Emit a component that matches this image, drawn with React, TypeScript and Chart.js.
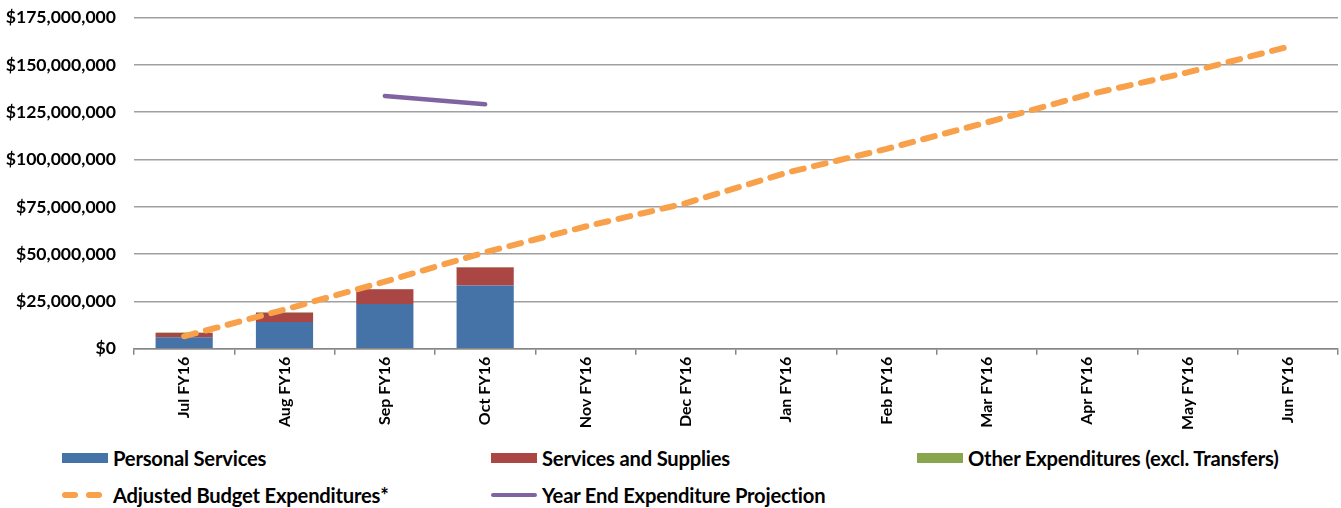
import React, { useEffect, useRef } from "react";
import { Chart, registerables } from "chart.js";

Chart.register(...registerables);

const months = [
  "Jul FY16", "Aug FY16", "Sep FY16", "Oct FY16", "Nov FY16", "Dec FY16",
  "Jan FY16", "Feb FY16", "Mar FY16", "Apr FY16", "May FY16", "Jun FY16",
];

const personalServices = [6100000, 14200000, 23700000, 33400000, null, null, null, null, null, null, null, null];
const servicesAndSupplies = [2300000, 4900000, 7700000, 9600000, null, null, null, null, null, null, null, null];
const otherExpenditures = [250000, 250000, 250000, 250000, null, null, null, null, null, null, null, null];
const adjustedBudget = [
  6600000, 20700000, 35500000, 51000000, 64600000, 76900000,
  93000000, 105600000, 119600000, 134200000, 146000000, 159500000,
];
const yearEndProjection = [null, null, 133600000, 129200000, null, null, null, null, null, null, null, null];

const yMax = 175000000;
const yStep = 25000000;

const FONT = "Lato, 'Open Sans', sans-serif";

const COLORS = {
  personal: "#4572A7",
  supplies: "#AA4643",
  other: "#89A54E",
  budget: "#F9A04B",
  projection: "#8064A2",
};

function Swatch({ kind, color }: { kind: string; color: string }) {
  if (kind === "box") {
    return <span style={{ display: "inline-block", width: 46, height: 10, background: color }} />;
  }
  if (kind === "dash") {
    return (
      <span style={{ display: "inline-flex", width: 46, height: 10, alignItems: "center", gap: 8 }}>
        <span style={{ width: 16, height: 6, borderRadius: 3, background: color }} />
        <span style={{ width: 16, height: 6, borderRadius: 3, background: color }} />
      </span>
    );
  }
  return (
    <span style={{ display: "inline-flex", width: 46, height: 10, alignItems: "center" }}>
      <span style={{ width: 46, height: 4, borderRadius: 2, background: color }} />
    </span>
  );
}

const legendItems = [
  { label: "Personal Services", kind: "box", color: COLORS.personal, x: 62, y: 458 },
  { label: "Services and Supplies", kind: "box", color: COLORS.supplies, x: 491, y: 458 },
  { label: "Other Expenditures (excl. Transfers)", kind: "box", color: COLORS.other, x: 917, y: 458 },
  { label: "Adjusted Budget Expenditures*", kind: "dash", color: COLORS.budget, x: 62, y: 495 },
  { label: "Year End Expenditure Projection", kind: "line", color: COLORS.projection, x: 491, y: 495 },
];

// The canvas is shifted up so the plot spans y 16.7..348.5 on the page.
const CANVAS_SHIFT = 11.3;

export default function App() {
  const canvasRef = useRef<HTMLCanvasElement | null>(null);

  useEffect(() => {
    if (!canvasRef.current) return;
    const chart = new Chart(canvasRef.current, {
      type: "bar",
      data: {
        labels: months,
        datasets: [
          {
            type: "line",
            label: "Adjusted Budget Expenditures*",
            data: adjustedBudget,
            borderColor: COLORS.budget,
            borderWidth: 6,
            borderDash: [12, 10.5],
            borderCapStyle: "round",
            pointRadius: 0,
            stack: "budget",
            order: 0,
          },
          {
            type: "line",
            label: "Year End Expenditure Projection",
            data: yearEndProjection,
            borderColor: COLORS.projection,
            borderWidth: 4.5,
            borderCapStyle: "round",
            pointRadius: 0,
            spanGaps: false,
            stack: "projection",
            order: 0,
          },
          {
            label: "Personal Services",
            data: personalServices,
            backgroundColor: COLORS.personal,
            stack: "exp",
            order: 1,
          },
          {
            label: "Services and Supplies",
            data: servicesAndSupplies,
            backgroundColor: COLORS.supplies,
            stack: "exp",
            order: 1,
          },
          {
            label: "Other Expenditures (excl. Transfers)",
            data: otherExpenditures,
            backgroundColor: COLORS.other,
            stack: "exp",
            order: 1,
          },
        ],
      } as any,
      options: {
        animation: false,
        responsive: true,
        maintainAspectRatio: false,
        datasets: { bar: { barPercentage: 0.57, categoryPercentage: 1 } },
        layout: { padding: { top: 5.4, right: 2, left: 0, bottom: 0 } },
        plugins: { legend: { display: false }, tooltip: { enabled: false } },
        scales: {
          x: {
            stacked: true,
            afterFit: (s: any) => { s.height = 91.5; },
            border: { color: "#868686", width: 1.5 },
            grid: { offset: true, drawOnChartArea: false, drawTicks: true, tickLength: 6, color: "#868686", lineWidth: 1.5 },
            ticks: {
              minRotation: 90,
              maxRotation: 90,
              padding: 2,
              color: "#000",
              font: { family: FONT, weight: "bold", size: 16 },
            },
          },
          y: {
            stacked: true,
            min: 0,
            max: yMax,
            afterFit: (s: any) => { s.width = 134; },
            border: { display: false },
            grid: { color: "#a0a0a0", lineWidth: 1.5, drawTicks: false },
            ticks: {
              stepSize: yStep,
              padding: 18,
              color: "#000",
              font: { family: FONT, weight: "bold", size: 17.6 },
              callback: (v: any) => "$" + Number(v).toLocaleString("en-US"),
            },
          },
        },
      } as any,
    });
    return () => chart.destroy();
  }, []);

  return (
    <div style={{ position: "absolute", left: 0, top: 0, width: 1341, height: 508, background: "#fff", fontFamily: FONT, overflow: "hidden" }}>
      <div style={{ position: "absolute", left: 0, top: -CANVAS_SHIFT, width: 1341, height: 440 + CANVAS_SHIFT }}>
        <canvas ref={canvasRef} />
      </div>
      {legendItems.map((it) => (
        <div
          key={it.label}
          style={{
            position: "absolute",
            left: it.x,
            top: it.y - 13,
            height: 26,
            display: "flex",
            alignItems: "center",
            whiteSpace: "nowrap",
          }}
        >
          <Swatch kind={it.kind} color={it.color} />
          <span style={{ marginLeft: 5, fontWeight: 700, fontSize: 20.2, color: "#000", letterSpacing: -0.2 }}>{it.label}</span>
        </div>
      ))}
    </div>
  );
}
